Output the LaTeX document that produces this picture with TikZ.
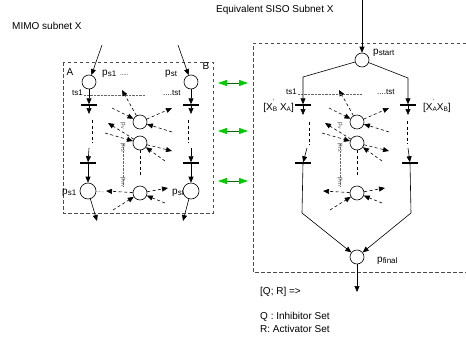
\documentclass[tikz,border=0pt]{standalone}
\usepackage{fontspec}
\setmainfont{Liberation Sans}
\usetikzlibrary{arrows.meta}
\newcommand{\psb}[2]{#1{\fontsize{8}{8}\selectfont\raisebox{-0.2ex}{#2}}}
\newcommand{\xsp}[2]{X\makebox[0pt][l]{\raisebox{1.2ex}{\fontsize{6}{6}\selectfont'}}{\fontsize{6.5}{7}\selectfont\raisebox{-0.3ex}{#1}}}
\newcommand{\xsb}[1]{X{\fontsize{6.5}{7}\selectfont\raisebox{-0.3ex}{#1}}}
\tikzset{
  place/.style={circle,draw,fill=white,minimum size=14pt,inner sep=0pt,line width=0.6pt},
  bigplace/.style={place,minimum size=16pt},
  tbar/.style={rectangle,fill=black,minimum width=16pt,minimum height=1.1pt,inner sep=0pt},
  arr/.style={-{Triangle[length=6pt,width=5pt]},line width=0.6pt},
  darr/.style={arr,dash pattern=on 3pt off 2.5pt},
  dline/.style={line width=0.6pt,dash pattern=on 3pt off 2.5pt},
  boxd/.style={line width=0.7pt,black!70,dash pattern=on 3.5pt off 2.5pt},
  dotl/.style={black!60,line width=0.5pt,dash pattern=on 0.6pt off 0.8pt},
  small/.style={font=\fontsize{8}{9}\selectfont,inner sep=0pt},
  tiny/.style={font=\fontsize{6.5}{6.5}\selectfont,black!70,inner sep=0pt,rotate=-90},
  garr/.style={line width=0.8pt,green!40!black,{Triangle[length=9pt,width=6pt,color=green!80!black]}-{Triangle[length=9pt,width=6pt,color=green!80!black]}}
}
\begin{document}
\begin{tikzpicture}[x=1pt,y=-1pt,font=\fontsize{10}{12}\selectfont]
\useasboundingbox (0,0) rectangle (466,343);

% titles
\node[anchor=west,inner sep=0pt] (mimo) at (12,26) {MIMO subnet X};
\node[anchor=west,inner sep=0pt] (equiv) at (216,10) {Equivalent SISO Subnet X};

% ---------------- left box ----------------
\draw[boxd] (63,62) rectangle (213,213);
\node[inner sep=0pt] (lA) at (70,72) {A};
\node[inner sep=0pt] (lB) at (206,66) {B};
\node[anchor=west,inner sep=0pt] (lps1) at (102,74) {\psb{p}{s1}\hspace{4pt}{\fontsize{6}{6}\selectfont.....}};
\node[anchor=west,inner sep=0pt] (lpst) at (165,74) {\psb{p}{st}};
\node[small,anchor=east] (lts1) at (83,93) {ts1};
\coordinate (dA1) at (84,95.5); \coordinate (dA2) at (145,95.5);
\draw[dotl] (dA1) -- (dA2);
\node[small,anchor=west] (ltst) at (163,93) {....tst};

\node[place] (pA) at (89,82) {};
\node[place] (pB) at (191,82) {};
\coordinate (inA) at (102,45); \coordinate (inB) at (178,45);
\draw[arr] (inA) -- (pA);
\draw[arr] (inB) -- (pB);

\node[tbar] (bA1) at (89,105) {};
\node[tbar] (bB1) at (191,105) {};
\coordinate (oA1) at (89,114); \coordinate (oB1) at (191,114);
\draw[arr] (pA) -- (bA1); \draw[arr] (bA1) -- (oA1);
\draw[arr] (pB) -- (bB1); \draw[arr] (bB1) -- (oB1);

\coordinate (vA1) at (92,120); \coordinate (vA2) at (92,143);
\coordinate (vB1) at (188,120); \coordinate (vB2) at (188,143);
\draw[dline] (vA1) -- (vA2); \draw[dline] (vB1) -- (vB2);

\node[tbar] (bA2) at (88,163) {};
\node[tbar] (bB2) at (191,163) {};
\coordinate (iA2) at (89,148); \coordinate (iB2) at (191,148);
\draw[arr] (iA2) -- (bA2); \draw[arr] (iB2) -- (bB2);

\node[anchor=west,inner sep=0pt] (lpC) at (62,193) {\psb{p}{s1}};
\node[anchor=west,inner sep=0pt] (lpD) at (172,193) {\psb{p}{st}};
\node[bigplace] (pC) at (88,191) {};
\node[bigplace] (pD) at (191,191) {};
\draw[arr] (bA2) -- (pC); \draw[arr] (bB2) -- (pD);
\coordinate (oC) at (97,221); \coordinate (oD) at (183,221);
\draw[arr] (pC) -- (oC); \draw[arr] (pD) -- (oD);
\coordinate (dC) at (104,192);
\draw[dotl] (pC) -- (dC);

% green links
\coordinate (g1a) at (218,83); \coordinate (g1b) at (248,83);
\coordinate (g2a) at (218,131); \coordinate (g2b) at (248,131);
\coordinate (g3a) at (218,181); \coordinate (g3b) at (248,181);
\draw[garr] (g1a) -- (g1b);
\draw[garr] (g2a) -- (g2b);
\draw[garr] (g3a) -- (g3b);

% ---------------- middle clusters ----------------
\foreach \s/\dx in {L/0,R/217}{
\begin{scope}[xshift=\dx]
  \node[tiny] (lv\s) at (123,126) {p\raisebox{-0.2ex}{\fontsize{5}{5}\selectfont v}};
  \node[tiny] (lr2\s) at (123,148) {p\raisebox{-0.2ex}{\fontsize{5}{5}\selectfont r2}};
  \node[tiny] (lrn\s) at (123,182) {p\raisebox{-0.2ex}{\fontsize{5}{5}\selectfont rn}};
  \draw[dotl] (lr2\s.west) -- (lrn\s.east);
  \node[place] (c1\s) at (140,122) {};
  \node[place] (c2\s) at (140,143) {};
  \node[place] (c3\s) at (140,193) {};
  \coordinate (a1\s) at (112,108);
  \coordinate (a2\s) at (172,108);
  \coordinate (a3\s) at (172,132);
  \coordinate (a4\s) at (122,90);
  \coordinate (a5\s) at (108,123);
  \coordinate (a6\s) at (105,133);
  \coordinate (a7\s) at (172,151);
  \coordinate (a8\s) at (165,161);
  \coordinate (a9\s) at (140,176);
  \coordinate (a10\s) at (106,191);
  \coordinate (a11\s) at (168,188);
  \coordinate (a12\s) at (165,203);
  \coordinate (a13\s) at (113,210);
  \draw[darr] (a1\s) -- (c1\s);
  \draw[darr] (c1\s) -- (a2\s);
  \draw[darr] (a3\s) -- (c1\s);
  \draw[darr] (c1\s) -- (a4\s);
  \draw[darr] (c2\s) -- (a5\s);
  \draw[darr] (a6\s) -- (c2\s);
  \draw[darr] (c2\s) -- (a7\s);
  \draw[darr] (a8\s) -- (c2\s);
  \draw[dline] (c2\s) -- (a9\s);
  \draw[darr] (c3\s) -- (a10\s);
  \draw[darr] (c3\s) -- (a11\s);
  \draw[darr] (a12\s) -- (c3\s);
  \draw[darr] (a13\s) -- (c3\s);
\end{scope}}

% ---------------- right box ----------------
\draw[boxd] (466,43) -- (253,43) -- (253,272) -- (466,272);
\node[place] (pst) at (362,60) {};
\coordinate (inS) at (362,0);
\draw[arr] (inS) -- (pst);
\node[anchor=west,inner sep=0pt] (lpstart) at (373,53) {\psb{p}{start}};

\node[small,anchor=east] (lts1R) at (297,92) {ts1};
\coordinate (dS1) at (298,94.5); \coordinate (dS2) at (362,94.5);
\draw[dotl] (dS1) -- (dS2);
\node[small,anchor=west] (ltstR) at (377,92) {....tst};

\coordinate (kL) at (303,77); \coordinate (kR) at (408,78);
\node[tbar] (bS1) at (303,105) {};
\node[tbar] (bS2) at (408,105) {};
\draw[arr] (pst) -- (kL) -- (bS1);
\draw[arr] (pst) -- (kR) -- (bS2);
\coordinate (oS1) at (303,115); \coordinate (oS2) at (408,115);
\draw[arr] (bS1) -- (oS1); \draw[arr] (bS2) -- (oS2);
\node[anchor=east,inner sep=0pt] (xl) at (294,106) {[\xsp{B}; \xsb{A}]};
\node[anchor=west,inner sep=0pt] (xr) at (423,106) {[\xsp{A};\xsb{B}]};

\coordinate (vS1) at (309,122); \coordinate (vS2) at (309,145);
\coordinate (vS3) at (407,121); \coordinate (vS4) at (407,144);
\draw[dline] (vS1) -- (vS2); \draw[dline] (vS3) -- (vS4);

\node[tbar] (bS3) at (303,163) {};
\node[tbar] (bS4) at (410,163) {};
\coordinate (iS3) at (307,148); \coordinate (iS4) at (408,148);
\draw[arr] (iS3) -- (bS3); \draw[arr] (iS4) -- (bS4);

\node[place] (pf) at (357,257) {};
\node[anchor=west,inner sep=0pt] (lpf) at (377,261) {\psb{p}{final}};
\coordinate (kL2) at (302,213); \coordinate (kR2) at (411,213);
\draw[arr] (bS3.center) -- (kL2) -- (pf);
\draw[arr] (bS4.center) -- (kR2) -- (pf);
\coordinate (oF) at (357,292);
\draw[arr] (pf) -- (oF);

\node[anchor=west,inner sep=0pt] (qr) at (260,292) {[Q; R] =>};
\node[anchor=west,inner sep=0pt] (qi) at (260,317) {Q : Inhibitor Set};
\node[anchor=west,inner sep=0pt] (ra) at (260,329) {R: Activator Set};
\end{tikzpicture}
\end{document}
